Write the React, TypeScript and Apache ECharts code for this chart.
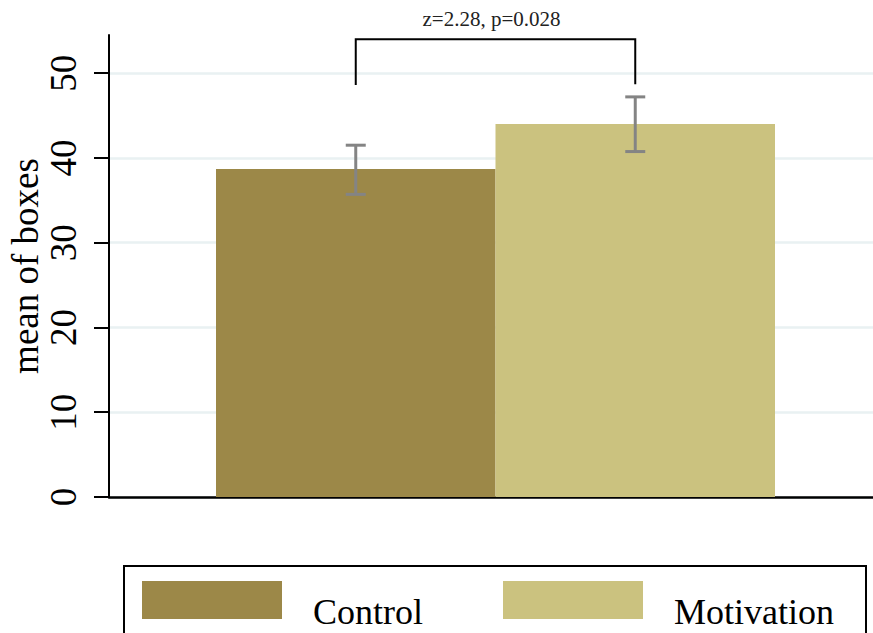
import React, { useEffect, useRef } from 'react';
import * as echarts from 'echarts';

const categories = ['Control', 'Motivation'];
const means = [38.7, 44.0];
const ciLow = [35.7, 40.75];
const ciHigh = [41.5, 47.2];
const yTicks = [0, 10, 20, 30, 40, 50];
const yMax = 54.5;
const bracketTop = 54.0;
const bracketEnds = [48.6, 48.7];
const testLabel = 'z=2.28, p=0.028';
const yTitle = 'mean of boxes';
const colors = ['#9c8848', '#cbc27f'];

const FONT = '"Liberation Serif", "Times New Roman", serif';

export default function App() {
  const ref = useRef<HTMLDivElement>(null);
  useEffect(() => {
    if (!ref.current) return;
    const chart = echarts.init(ref.current, null, { renderer: 'svg' });
    const option: any = {
      animation: false,
      backgroundColor: '#fff',
      grid: [
        { left: 109, right: 0, top: 35, bottom: 136, outerBoundsMode: 'none', containLabel: false },
        { left: 216, right: 98, top: 35, bottom: 136, outerBoundsMode: 'none', containLabel: false },
      ],
      xAxis: [
        {
          type: 'value', gridIndex: 0, min: 0, max: 1,
          axisLine: { show: true, onZero: false, lineStyle: { color: '#000', width: 2.5 } },
          axisTick: { show: false }, axisLabel: { show: false }, splitLine: { show: false },
        },
        {
          type: 'category', gridIndex: 1, data: categories,
          axisLine: { show: false }, axisTick: { show: false }, axisLabel: { show: false },
        },
      ],
      yAxis: [
        {
          type: 'value', gridIndex: 0, min: 0, max: yMax, interval: 10,
          name: yTitle, nameLocation: 'middle', nameRotate: 90, nameGap: 65,
          nameMoveOverlap: false,
          nameTextStyle: { fontSize: 37, fontFamily: FONT, color: '#000' },
          axisLine: { show: true, lineStyle: { color: '#000', width: 2 } },
          axisTick: { show: true, length: 15, customValues: yTicks, lineStyle: { color: '#000', width: 2 } },
          axisLabel: { rotate: 90, margin: 27, customValues: yTicks, fontSize: 37, fontFamily: FONT, color: '#000' },
          splitLine: { show: true, lineStyle: { color: '#e9f1f2', width: 2.5 } },
        },
        {
          type: 'value', gridIndex: 1, min: 0, max: yMax, show: false,
        },
      ],
      legend: {
        data: categories,
        left: 124, top: 566,
        padding: [15, 32, 40, 18],
        itemWidth: 140, itemHeight: 38, itemGap: 80,
        icon: 'rect',
        borderColor: '#000', borderWidth: 2,
        formatter: '{t|{name}}',
        textStyle: {
          fontSize: 36, fontFamily: FONT, color: '#000',
          rich: { t: { fontSize: 36, fontFamily: FONT, color: '#000', padding: [24, 0, 0, 26] } },
        },
      },
      series: [
        ...categories.map((name, i) => ({
          type: 'bar', name, xAxisIndex: 1, yAxisIndex: 1,
          data: categories.map((_, j) => (j === i ? means[i] : '-')),
          barGap: '-100%', barCategoryGap: '0%',
          itemStyle: { color: colors[i] },
        })),
        {
          type: 'custom', name: 'ci', xAxisIndex: 1, yAxisIndex: 1,
          data: categories.map((_, i) => [i, ciLow[i], ciHigh[i]]),
          encode: { x: 0, y: [1, 2] },
          z: 5,
          renderItem: (params: any, api: any) => {
            const x = api.value(0);
            const lo = api.coord([x, api.value(1)]);
            const hi = api.coord([x, api.value(2)]);
            const w = 10;
            const st = { stroke: '#848484', lineWidth: 3 };
            return {
              type: 'group',
              children: [
                { type: 'line', shape: { x1: lo[0], y1: lo[1], x2: hi[0], y2: hi[1] }, style: st },
                { type: 'line', shape: { x1: lo[0] - w, y1: lo[1], x2: lo[0] + w, y2: lo[1] }, style: st },
                { type: 'line', shape: { x1: hi[0] - w, y1: hi[1], x2: hi[0] + w, y2: hi[1] }, style: st },
              ],
            };
          },
        },
        {
          type: 'custom', name: 'bracket', xAxisIndex: 1, yAxisIndex: 1,
          data: [[0, 1, bracketTop, bracketEnds[0], bracketEnds[1]]],
          encode: { x: [0, 1], y: [2, 3, 4] },
          z: 6,
          renderItem: (params: any, api: any) => {
            const p0 = api.coord([api.value(0), api.value(3)]);
            const p1 = api.coord([api.value(0), api.value(2)]);
            const p2 = api.coord([api.value(1), api.value(2)]);
            const p3 = api.coord([api.value(1), api.value(4)]);
            return {
              type: 'group',
              children: [
                {
                  type: 'polyline',
                  shape: { points: [p0, p1, p2, p3] },
                  style: { stroke: '#000', lineWidth: 2, fill: 'none' },
                },
                {
                  type: 'text',
                  x: (p1[0] + p2[0]) / 2 - 4,
                  y: p1[1] - 20,
                  style: {
                    text: testLabel, fontSize: 21, fontFamily: FONT, fill: '#222',
                    align: 'center', verticalAlign: 'middle',
                  },
                },
              ],
            };
          },
        },
      ],
    };
    chart.setOption(option);
    return () => chart.dispose();
  }, []);
  return (
    <div
      ref={ref}
      style={{ position: 'absolute', left: 0, top: 0, width: 873, height: 633 }}
    />
  );
}
